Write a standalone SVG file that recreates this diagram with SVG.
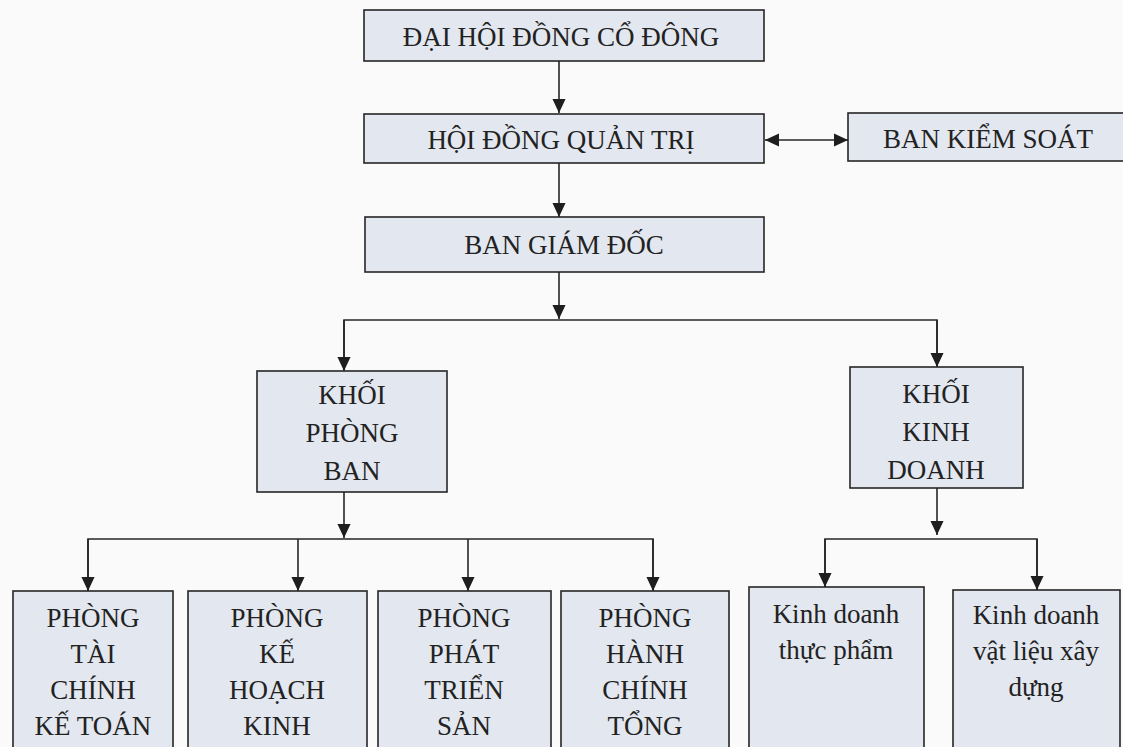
<svg xmlns="http://www.w3.org/2000/svg" width="1123" height="747" viewBox="0 0 1123 747">
<style>
.box{fill:#e3e7ef;stroke:#262626;stroke-width:1.6}
.t{font-family:"Liberation Serif","Times New Roman",serif;font-size:27px;fill:#222;text-anchor:middle}
.c{fill:none;stroke:#262626;stroke-width:1.6}
</style>
<defs>
<marker id="ah" markerUnits="userSpaceOnUse" markerWidth="14" markerHeight="16" refX="15" refY="7" orient="auto-start-reverse" viewBox="0 0 15 14">
<path d="M0,0 L15,7 L0,14 Z" fill="#1e1e1e"/>
</marker>
</defs>
<rect width="1123" height="747" fill="#fafafa"/>
<g id="connectors">
<line class="c" x1="559" y1="61" x2="559" y2="113" marker-end="url(#ah)"/>
<line class="c" x1="765" y1="140" x2="848" y2="140" marker-start="url(#ah)" marker-end="url(#ah)"/>
<line class="c" x1="559" y1="163" x2="559" y2="217" marker-end="url(#ah)"/>
<line class="c" x1="559" y1="272" x2="559" y2="319" marker-end="url(#ah)"/>
<polyline class="c" points="344,370 344,320 937,320 937,366"/>
<line class="c" x1="344" y1="320" x2="344" y2="371" marker-end="url(#ah)"/>
<line class="c" x1="937" y1="320" x2="937" y2="367" marker-end="url(#ah)"/>
<line class="c" x1="344" y1="492" x2="344" y2="538" marker-end="url(#ah)"/>
<polyline class="c" points="88,590 88,539 653,539 653,590"/>
<line class="c" x1="88" y1="539" x2="88" y2="591" marker-end="url(#ah)"/>
<line class="c" x1="298" y1="539" x2="298" y2="591" marker-end="url(#ah)"/>
<line class="c" x1="468" y1="539" x2="468" y2="591" marker-end="url(#ah)"/>
<line class="c" x1="653" y1="539" x2="653" y2="591" marker-end="url(#ah)"/>
<line class="c" x1="937" y1="488" x2="937" y2="535" marker-end="url(#ah)"/>
<polyline class="c" points="825,587 825,539 1037,539 1037,590"/>
<line class="c" x1="825" y1="539" x2="825" y2="587" marker-end="url(#ah)"/>
<line class="c" x1="1037" y1="539" x2="1037" y2="590" marker-end="url(#ah)"/>
</g>
<g id="dhdcd">
<rect class="box" x="364" y="10" width="400" height="51"/>
<text class="t" x="561" y="46">ĐẠI HỘI ĐỒNG CỔ ĐÔNG</text>
</g>
<g id="hdqt">
<rect class="box" x="364" y="114" width="400" height="49"/>
<text class="t" x="561" y="149">HỘI ĐỒNG QUẢN TRỊ</text>
</g>
<g id="bks">
<rect class="box" x="848" y="113" width="290" height="48"/>
<text class="t" x="988" y="148">BAN KIỂM SOÁT</text>
</g>
<g id="bgd">
<rect class="box" x="365" y="217" width="399" height="55"/>
<text class="t" x="564" y="254">BAN GIÁM ĐỐC</text>
</g>
<g id="kpb">
<rect class="box" x="257" y="371" width="190" height="121"/>
<text class="t" x="352" y="404">KHỐI</text>
<text class="t" x="352" y="442">PHÒNG</text>
<text class="t" x="352" y="480">BAN</text>
</g>
<g id="kkd">
<rect class="box" x="850" y="367" width="173" height="121"/>
<text class="t" x="936" y="403">KHỐI</text>
<text class="t" x="936" y="441">KINH</text>
<text class="t" x="936" y="479">DOANH</text>
</g>
<g id="ptckt">
<rect class="box" x="13" y="591" width="160" height="170"/>
<text class="t" x="93" y="627">PHÒNG</text>
<text class="t" x="93" y="663">TÀI</text>
<text class="t" x="93" y="699">CHÍNH</text>
<text class="t" x="93" y="735">KẾ TOÁN</text>
</g>
<g id="pkhkd">
<rect class="box" x="188" y="591" width="179" height="170"/>
<text class="t" x="277" y="627">PHÒNG</text>
<text class="t" x="277" y="663">KẾ</text>
<text class="t" x="277" y="699">HOẠCH</text>
<text class="t" x="277" y="735">KINH</text>
</g>
<g id="pptsp">
<rect class="box" x="378" y="591" width="173" height="170"/>
<text class="t" x="464" y="627">PHÒNG</text>
<text class="t" x="464" y="663">PHÁT</text>
<text class="t" x="464" y="699">TRIỂN</text>
<text class="t" x="464" y="735">SẢN</text>
</g>
<g id="phcth">
<rect class="box" x="561" y="591" width="168" height="170"/>
<text class="t" x="645" y="627">PHÒNG</text>
<text class="t" x="645" y="663">HÀNH</text>
<text class="t" x="645" y="699">CHÍNH</text>
<text class="t" x="645" y="735">TỔNG</text>
</g>
<g id="kdtp">
<rect class="box" x="749" y="587" width="175" height="174"/>
<text class="t" x="836" y="623">Kinh doanh</text>
<text class="t" x="836" y="659">thực phẩm</text>
</g>
<g id="kdvlxd">
<rect class="box" x="953" y="590" width="167" height="171"/>
<text class="t" x="1036" y="624">Kinh doanh</text>
<text class="t" x="1036" y="660">vật liệu xây</text>
<text class="t" x="1036" y="696">dựng</text>
</g>
</svg>
